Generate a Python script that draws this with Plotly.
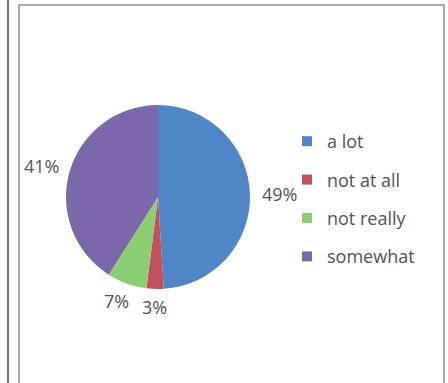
import math
import plotly.graph_objects as go

categories = ["a lot", "not at all", "not really", "somewhat"]
values = [49, 3, 7, 41]
colors = ["#4f86c6", "#c0505a", "#8ccf72", "#7b68aa"]

W, H = 448, 383
CX, CY, R = 158, 197, 92  # pie centre / radius in pixels (from top-left)
FONT = "Open Sans"
TXT = "#545454"

fig = go.Figure()

fig.add_trace(go.Pie(
    labels=categories, values=values, sort=False, direction="clockwise", rotation=0,
    marker=dict(colors=colors, line=dict(width=0)),
    textinfo="none",
    domain=dict(x=[(CX - R) / W, (CX + R) / W], y=[(H - CY - R) / H, (H - CY + R) / H]),
    showlegend=False, hoverinfo="skip",
))

# percentage labels placed just outside each slice's mid-angle
total = sum(values)
cum = 0
annotations = []
for v in values:
    mid = 2 * math.pi * (cum + v / 2) / total
    cum += v
    px = CX + R * 1.32 * math.sin(mid)
    py = CY - R * 1.2 * math.cos(mid)
    annotations.append(dict(
        x=px / W, y=1 - py / H, xref="paper", yref="paper",
        text=f"{round(100 * v / total)}%", showarrow=False,
        xanchor="center", yanchor="middle",
        font=dict(family=FONT, size=18, color=TXT),
    ))

for c, col in zip(categories, colors):
    fig.add_trace(go.Scatter(
        x=[None], y=[None], mode="markers", name=c, legendgroup=c,
        marker=dict(symbol="square", size=10, color=col),
    ))

shapes = [
    dict(type="line", xref="paper", yref="paper", x0=8 / W, x1=8 / W, y0=0, y1=1,
         line=dict(color="#6f7a78", width=2)),
    dict(type="rect", xref="paper", yref="paper", x0=19 / W, x1=444 / W, y0=-0.05, y1=1 - 5 / H,
         line=dict(color="#8a9290", width=1.5)),
]

fig.update_layout(
    width=W, height=H, margin=dict(l=0, r=0, t=0, b=0),
    paper_bgcolor="white", plot_bgcolor="white",
    xaxis=dict(visible=False), yaxis=dict(visible=False),
    shapes=shapes, annotations=annotations,
    showlegend=True,
    legend=dict(x=(327 - 40) / W, y=1 - 123 / H, xanchor="left", yanchor="top",
                font=dict(family=FONT, size=18, color=TXT),
                tracegroupgap=12, itemwidth=30, bgcolor="rgba(0,0,0,0)"),
)

fig.write_html("out.html")
